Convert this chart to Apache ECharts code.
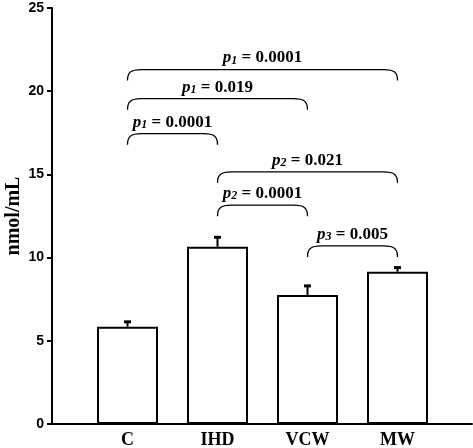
<!DOCTYPE html>
<html>
<head>
    <meta charset="utf-8">
    <title>nmol/mL</title>
    <script src="https://cdn.jsdelivr.net/npm/echarts@6/dist/echarts.min.js"></script>
    <style>
        html, body { margin: 0; padding: 0; background: #fff; }
        #main { width: 473px; height: 448px; }
    </style>
</head>
<body>
<div id="main"></div>
<script>
    // groups and bar values
    var groups = ['C', 'IHD', 'VCW', 'MW'];
    var means = [5.85, 10.65, 7.75, 9.15];
    var errUp = [0.32, 0.6, 0.58, 0.28];

    // significance brackets
    var pairFrom = ['C', 'C', 'C', 'IHD', 'IHD', 'VCW'];
    var pairTo = ['MW', 'VCW', 'IHD', 'MW', 'VCW', 'MW'];
    var pairLevel = [21.3, 19.55, 17.45, 15.15, 13.15, 10.7];
    var pSub = ['1', '1', '1', '2', '2', '3'];
    var pVal = ['0.0001', '0.019', '0.0001', '0.021', '0.0001', '0.005'];

    var serif = '"Liberation Serif", "DejaVu Serif", serif';
    var sans = '"Liberation Sans", Arial, sans-serif';

    var errData = groups.map(function (g, i) { return [i, means[i], means[i] + errUp[i]]; });
    var bracketData = pairFrom.map(function (f, i) {
        return [groups.indexOf(f), groups.indexOf(pairTo[i]), pairLevel[i], pSub[i], pVal[i]];
    });

    var chart = echarts.init(document.getElementById('main'));
    chart.setOption({
        animation: false,
        grid: [
            {left: 52, right: 1, top: 8, bottom: 24, outerBoundsMode: 'none', containLabel: false},
            {left: 82.5, right: 30.5, top: 8, bottom: 24, outerBoundsMode: 'none', containLabel: false}
        ],
        xAxis: [
            {
                gridIndex: 0, type: 'value', min: 0, max: 1,
                axisLine: {show: true, lineStyle: {color: '#000', width: 2}},
                axisTick: {show: false}, axisLabel: {show: false}, splitLine: {show: false}
            },
            {
                gridIndex: 1, type: 'category', data: groups,
                axisLine: {show: false}, axisTick: {show: false},
                axisLabel: {margin: 7, color: '#000', fontFamily: serif, fontWeight: 'bold', fontSize: 18}
            }
        ],
        yAxis: [
            {
                gridIndex: 0, type: 'value', min: 0, max: 25, interval: 5,
                name: 'nmol/mL', nameLocation: 'middle', nameGap: 28, nameRotate: 90,
                nameMoveOverlap: false,
                nameTextStyle: {color: '#000', fontFamily: serif, fontWeight: 'bold', fontSize: 20},
                axisLine: {show: true, lineStyle: {color: '#000', width: 2}},
                axisTick: {show: true, length: 5, lineStyle: {color: '#000', width: 2}},
                axisLabel: {margin: 8, color: '#000', fontFamily: sans, fontWeight: 'bold', fontSize: 14},
                splitLine: {show: false}
            },
            {
                gridIndex: 1, type: 'value', min: 0, max: 25, interval: 5, show: false
            }
        ],
        series: [
            {
                type: 'bar', xAxisIndex: 1, yAxisIndex: 1, data: means, barWidth: 61,
                itemStyle: {color: '#fff', borderColor: '#000', borderWidth: 2}
            },
            {
                type: 'custom', xAxisIndex: 1, yAxisIndex: 1, data: errData,
                renderItem: function (params, api) {
                    var lo = api.coord([api.value(0), api.value(1)]);
                    var hi = api.coord([api.value(0), api.value(2)]);
                    return {
                        type: 'group',
                        children: [
                            {type: 'line', shape: {x1: lo[0], y1: lo[1], x2: hi[0], y2: hi[1]},
                                style: {stroke: '#000', lineWidth: 2}},
                            {type: 'line', shape: {x1: hi[0] - 3.5, y1: hi[1] + 0.5, x2: hi[0] + 3.5, y2: hi[1] + 0.5},
                                style: {stroke: '#000', lineWidth: 3}}
                        ]
                    };
                }
            },
            {
                type: 'custom', xAxisIndex: 1, yAxisIndex: 1, data: bracketData,
                renderItem: function (params, api) {
                    var a = api.coord([api.value(0), api.value(2)]);
                    var b = api.coord([api.value(1), api.value(2)]);
                    var y = a[1], x1 = a[0], x2 = b[0], d = 11;
                    var path = 'M' + x1 + ' ' + (y + d) +
                        ' C' + x1 + ' ' + (y + 3) + ' ' + (x1 + 3) + ' ' + y + ' ' + (x1 + 14) + ' ' + y +
                        ' L' + (x2 - 14) + ' ' + y +
                        ' C' + (x2 - 3) + ' ' + y + ' ' + x2 + ' ' + (y + 3) + ' ' + x2 + ' ' + (y + d);
                    var item = bracketData[params.dataIndex];
                    return {
                        type: 'group',
                        children: [
                            {type: 'path', shape: {pathData: path},
                                style: {fill: null, stroke: '#000', lineWidth: 1.3}},
                            {
                                type: 'text', x: (x1 + x2) / 2, y: y - 3,
                                style: {
                                    text: '{p|p}{s|' + item[3] + '}{v| = ' + item[4] + '}',
                                    align: 'center', verticalAlign: 'bottom', fill: '#000',
                                    rich: {
                                        p: {fontFamily: serif, fontStyle: 'italic', fontWeight: 'bold', fontSize: 17, lineHeight: 19, verticalAlign: 'bottom'},
                                        s: {fontFamily: serif, fontStyle: 'italic', fontWeight: 'bold', fontSize: 12, lineHeight: 10, verticalAlign: 'bottom'},
                                        v: {fontFamily: serif, fontWeight: 'bold', fontSize: 17, lineHeight: 19, verticalAlign: 'bottom'}
                                    }
                                }
                            }
                        ]
                    };
                }
            }
        ]
    });
</script>
</body>
</html>
